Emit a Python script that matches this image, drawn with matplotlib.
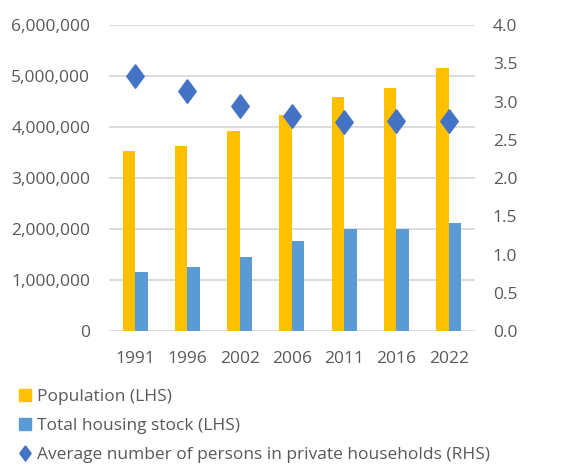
import matplotlib.pyplot as plt
import numpy as np
from matplotlib.lines import Line2D
from matplotlib.ticker import FuncFormatter

# census years and values
years = ['1991', '1996', '2002', '2006', '2011', '2016', '2022']
population = [3525719, 3626087, 3917203, 4239848, 4588252, 4761865, 5149139]
housing_stock = [1160000, 1258948, 1460053, 1769613, 1994845, 2003645, 2124590]
avg_persons = [3.34, 3.14, 2.94, 2.81, 2.73, 2.75, 2.74]

gold = '#FFC000'
light_blue = '#5B9BD5'
dark_blue = '#4472C4'
grey_text = '#595959'

plt.rcParams['font.family'] = ['Open Sans', 'DejaVu Sans']

# taller-than-wide diamond, like the spreadsheet marker
diamond = [(0, 1), (0.74, 0), (0, -1), (-0.74, 0), (0, 1)]

fig = plt.figure(figsize=(5.68, 4.65), dpi=100)
ax = fig.add_axes([0.192, 0.288, 0.644, 0.658])
ax2 = ax.twinx()

x = np.arange(len(years))
w = 0.24
ax.bar(x - w / 2, population, w, color=gold, zorder=2)
ax.bar(x + w / 2, housing_stock, w, color=light_blue, zorder=2)
ax2.plot(x, avg_persons, linestyle='none', marker=diamond, markersize=17,
         color=dark_blue, zorder=3)

ax.set_xlim(-0.5, len(years) - 0.5)
ax.set_ylim(0, 6000000)
ax.set_yticks(np.arange(0, 6000001, 1000000))
ax.yaxis.set_major_formatter(FuncFormatter(lambda v, p: f'{int(v):,}'))
ax2.set_ylim(0, 4.0)
ax2.set_yticks(np.arange(0, 4.01, 0.5))
ax2.yaxis.set_major_formatter(FuncFormatter(lambda v, p: f'{v:.1f}'))

ax.set_xticks(x)
ax.set_xticklabels(years)
ax.grid(axis='y', color='#D9D9D9', linewidth=1.3, zorder=0)
ax.set_axisbelow(True)

for a in (ax, ax2):
    for s in a.spines.values():
        s.set_visible(False)
    a.tick_params(length=0, labelsize=12.5, labelcolor=grey_text)
ax.tick_params(axis='y', pad=13.5)
ax.tick_params(axis='x', pad=14.5)
ax2.tick_params(axis='y', pad=13)

handles = [
    Line2D([], [], linestyle='none', marker='s', markersize=8.5, color=gold),
    Line2D([], [], linestyle='none', marker='s', markersize=8.5, color=light_blue),
    Line2D([], [], linestyle='none', marker=diamond, markersize=11, color=dark_blue),
]
labels = ['Population (LHS)', 'Total housing stock (LHS)',
          'Average number of persons in private households (RHS)']
fig.legend(handles, labels, loc='upper left', bbox_to_anchor=(0.033, 0.164),
           frameon=False, fontsize=12.5, labelcolor=grey_text,
           handlelength=0.75, handletextpad=0.3, labelspacing=0.74,
           borderaxespad=0, borderpad=0)

fig.savefig('out.png', dpi=100)
